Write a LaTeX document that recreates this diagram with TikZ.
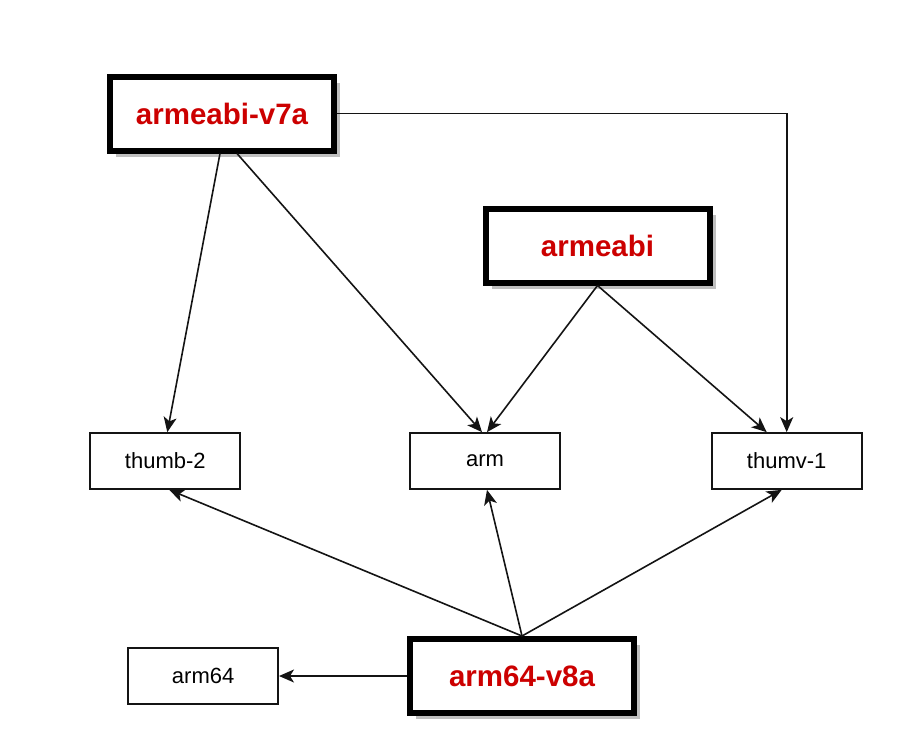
\documentclass[tikz,border=0pt]{standalone}
\usepackage{fontspec}
\setmainfont{Liberation Sans}
\usepackage{xcolor}
\usepackage{tikz}
\usetikzlibrary{positioning, arrows.meta, shadows}
\definecolor{abired}{RGB}{204,0,0}
\definecolor{edge}{RGB}{20,20,20}

\begin{document}
\begin{tikzpicture}[
    x=1pt, y=-1pt,
    isa/.style={draw=edge, fill=white, line width=1.7pt, minimum width=150pt,
                minimum height=56pt, inner sep=0pt, font=\fontsize{22}{26}\selectfont},
    abi/.style={draw=black, fill=white, line width=6pt, minimum width=224pt,
                minimum height=74pt, inner sep=0pt, text=abired,
                font=\fontsize{29.5}{33}\selectfont\bfseries,
                drop shadow={shadow xshift=6pt, shadow yshift=-6pt, fill=black!25, opacity=1}},
    arr/.style={-{Stealth[length=15pt, width=13pt, inset=4pt]}, draw=edge, line width=1.6pt}
  ]
  \useasboundingbox (0,0) rectangle (923,734);
  \node[isa] (arm) at (485,461) {arm};
  \node[isa, left=168pt of arm] (thumbtwo) {thumb-2};
  \node[isa, right=150pt of arm] (thumvone) {thumv-1};
  \node[abi] (armvseven) at (222,113.5) {armeabi-v7a};
  \node[abi] (armeabi) at (597.5,245.5) {armeabi};
  \node[abi] (armveight) at (522,676) {arm64-v8a};
  \node[isa, left=128pt of armveight] (armsixfour) {arm64};
  \draw[arr] ([xshift=-2pt]armvseven.south) -- ([xshift=2pt]thumbtwo.north);
  \draw[arr] ([xshift=15pt]armvseven.south) -- ([xshift=-3pt]arm.north);
  \draw[arr] (armvseven.east) -| (thumvone.north);
  \draw[arr] (armeabi.south) -- ([xshift=2pt]arm.north);
  \draw[arr] (armeabi.south) -- ([xshift=-20pt]thumvone.north);
  \draw[arr] (armveight.north) -- ([xshift=4pt]thumbtwo.south);
  \draw[arr] (armveight.north) -- ([xshift=2pt]arm.south);
  \draw[arr] (armveight.north) -- ([xshift=-5pt]thumvone.south);
  \draw[arr] (armveight.west) -- (armsixfour.east);
\end{tikzpicture}
\end{document}
